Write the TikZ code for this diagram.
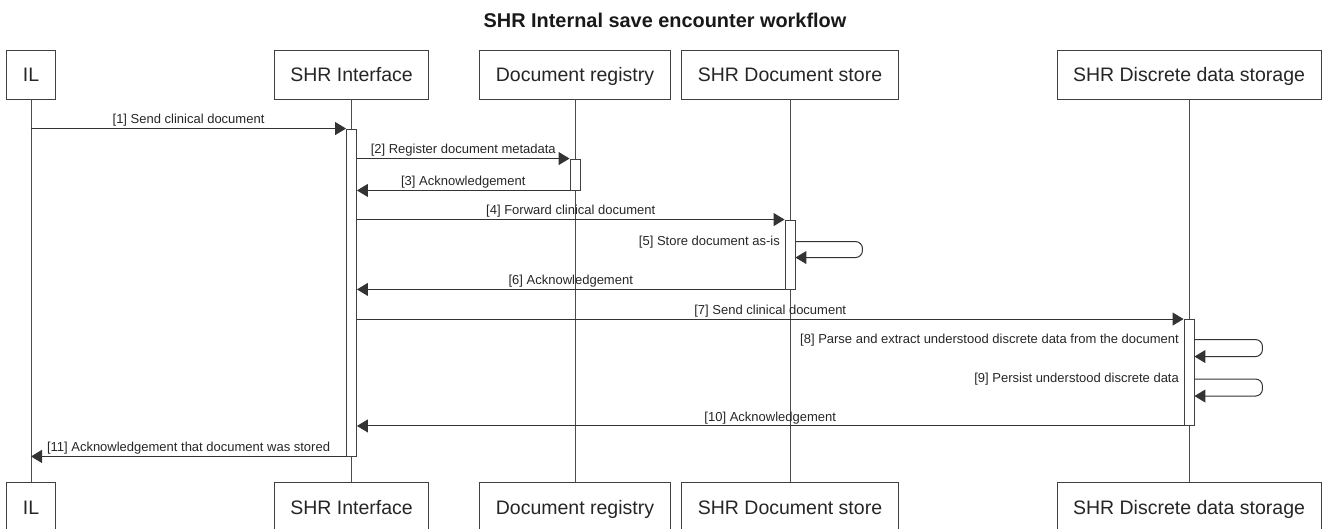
\documentclass[tikz,border=0pt]{standalone}
\usepackage{fontspec}
\setmainfont{Liberation Sans}
\usetikzlibrary{arrows.meta, positioning}
\tikzstyle{actor}=[draw=black!75, fill=white, line width=0.9pt, minimum height=49pt, inner xsep=16pt, text height=16.5pt, text depth=1.5pt, font=\fontsize{19.5}{22}\selectfont, text=black!85]
\tikzstyle{life}=[draw=black!70, line width=0.8pt]
\tikzstyle{act}=[draw=black!75, fill=white, line width=0.9pt, minimum width=10pt, inner sep=0pt]
\tikzstyle{msg}=[draw=black!80, line width=1pt, -{Triangle[length=11pt,width=13pt]}]
\tikzstyle{lbl}=[font=\fontsize{13}{15}\selectfont, text=black!85, inner sep=1.5pt]
\begin{document}
\begin{tikzpicture}[x=1pt, y=-1pt]
\useasboundingbox (0,0) rectangle (1329,529);
\clip (0,0) rectangle (1329,529);
\node[font=\fontsize{19.9}{22}\bfseries\selectfont, text=black!90] (title) at (665,20) {SHR Internal save encounter workflow};
\node[actor] (il) at (31,74.5) {IL}; \node[actor] (shr) at (351.5,74.5) {SHR Interface};
\node[actor] (reg) at (575,74.5) {Document registry}; \node[actor] (doc) at (790,74.5) {SHR Document store};
\node[actor] (dds) at (1189,74.5) {SHR Discrete data storage};
\node[actor] (ilB) at (31,506.5) {IL}; \node[actor] (shrB) at (351.5,506.5) {SHR Interface};
\node[actor] (regB) at (575,506.5) {Document registry}; \node[actor] (docB) at (790,506.5) {SHR Document store};
\node[actor] (ddsB) at (1189,506.5) {SHR Discrete data storage};

\draw[life] (il)--(ilB) (shr)--(shrB) (reg)--(regB) (doc)--(docB) (dds)--(ddsB);

\node[act, minimum height=327pt] (shrA) at (351.5,292.5) {};
\node[act, minimum height=31pt] (regA) at (575,174.5) {};
\node[act, minimum height=69pt] (docA) at (790,254.5) {};
\node[act, minimum height=106pt] (ddsA) at (1189,372.5) {};

\draw[msg] (il |- shrA.north) -- node[lbl, above]{[1] Send clinical document} (shrA.north west);
\draw[msg] (shrA.east |- regA.north) -- node[lbl, above]{[2] Register document metadata} (regA.north west);
\draw[msg] (regA.south west) -- node[lbl, above]{[3] Acknowledgement} (shrA.east |- regA.south);
\draw[msg] (shrA.east |- docA.north) -- node[lbl, above]{[4] Forward clinical document} (docA.north west);
\draw[msg, rounded corners=7pt] ([yshift=-22pt]docA.north east) -| ++(67,16) -- ([yshift=-38pt]docA.north east);
\node[lbl, anchor=east] (l5) at ([xshift=-3pt, yshift=-23pt]docA.north west) {[5] Store document as-is};
\draw[msg] (docA.south west) -- node[lbl, above]{[6] Acknowledgement} (shrA.east |- docA.south);
\draw[msg] (shrA.east |- ddsA.north) -- node[lbl, above]{[7] Send clinical document} (ddsA.north west);
\draw[msg, rounded corners=7pt] ([yshift=-20.5pt]ddsA.north east) -| ++(68,17) -- ([yshift=-37.5pt]ddsA.north east);
\node[lbl, anchor=east] (l8) at ([xshift=-3pt, yshift=-21.5pt]ddsA.north west) {[8] Parse and extract understood discrete data from the document};
\draw[msg, rounded corners=7pt] ([yshift=-60pt]ddsA.north east) -| ++(68,17) -- ([yshift=-77pt]ddsA.north east);
\node[lbl, anchor=east] (l9) at ([xshift=-3pt, yshift=-60pt]ddsA.north west) {[9] Persist understood discrete data};
\draw[msg] (ddsA.south west) -- node[lbl, above]{[10] Acknowledgement} (shrA.east |- ddsA.south);
\draw[msg] (shrA.south west) -- node[lbl, above]{[11] Acknowledgement that document was stored} (il |- shrA.south);
\end{tikzpicture}
\end{document}
